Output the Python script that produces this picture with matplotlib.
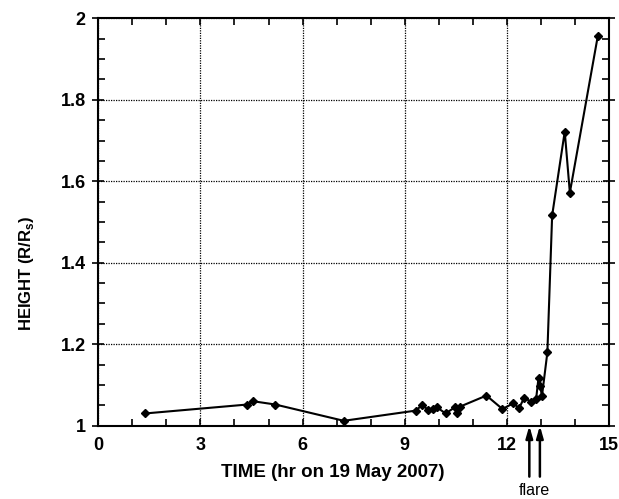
import matplotlib
matplotlib.use("Agg")
from matplotlib import pyplot as plt
from matplotlib.ticker import MultipleLocator

# data
time_hr = [1.37, 4.38, 4.55, 5.20, 7.21, 9.32, 9.52, 9.68, 9.83, 9.95,
           10.20, 10.47, 10.53, 10.63, 11.40, 11.87, 12.19, 12.36, 12.51,
           12.70, 12.86, 12.93, 12.98, 13.03, 13.19, 13.33, 13.70, 13.85, 14.67]
height = [1.030, 1.052, 1.060, 1.052, 1.012, 1.037, 1.051, 1.039, 1.041, 1.045,
          1.030, 1.045, 1.030, 1.047, 1.074, 1.041, 1.055, 1.043, 1.069,
          1.059, 1.066, 1.118, 1.098, 1.072, 1.180, 1.516, 1.722, 1.572, 1.956]
flare_times = [12.66, 12.97]

plt.rcParams['font.family'] = ['Liberation Sans', 'DejaVu Sans']

fig = plt.figure(figsize=(6.19, 4.99), dpi=100)
ax = fig.add_axes([98.3 / 619, 1 - 425.7 / 499, 510.7 / 619, 407.4 / 499])

ax.plot(time_hr, height, color='black', lw=1.5, marker='D', ms=4.5,
        mfc='black', mec='black')

ax.set_xlim(0, 15)
ax.set_ylim(1, 2)
ax.xaxis.set_minor_locator(MultipleLocator(1))
ax.yaxis.set_minor_locator(MultipleLocator(0.05))
ax.set_xticks([0, 3, 6, 9, 12, 15])
ax.set_xticklabels(['0', '3', '6', '9', '12', '15'])
ax.set_yticks([1, 1.2, 1.4, 1.6, 1.8, 2])
ax.set_yticklabels(['1', '1.2', '1.4', '1.6', '1.8', '2'])

ax.grid(True, which='major', color='black', ls=(0, (1, 1)), lw=0.9)
ax.tick_params(axis='x', which='both', direction='in', top=True, length=5,
               width=1.2, labelsize=13, pad=8)
ax.tick_params(axis='y', which='major', direction='inout', right=True,
               length=8, width=1.2, labelsize=13, pad=5)
ax.tick_params(axis='y', which='minor', direction='in', right=True,
               length=5, width=1.2)
for lbl in ax.get_xticklabels() + ax.get_yticklabels():
    lbl.set_fontweight('bold')
for sp in ax.spines.values():
    sp.set_linewidth(1.5)

ax.set_xlabel('TIME (hr on 19 May 2007)', fontsize=13.5, fontweight='bold')
ax.xaxis.set_label_coords(0.459, -0.095)
ax.set_ylabel('HEIGHT (R/R$_\\mathregular{s}$)', fontsize=12,
              fontweight='bold')
ax.yaxis.set_label_coords(-0.122, 0.375)

# flare arrows under the axis
for t in flare_times:
    ax.annotate('', xy=(t, 0.0), xytext=(t, -0.125),
                xycoords=('data', 'axes fraction'),
                textcoords=('data', 'axes fraction'),
                arrowprops=dict(arrowstyle='-|>,head_length=0.7,head_width=0.2',
                                color='black', lw=1.8, shrinkA=0, shrinkB=0),
                annotation_clip=False)
ax.text(sum(flare_times) / 2, -0.158, 'flare', transform=ax.get_xaxis_transform(),
        ha='center', va='center', fontsize=11.5)

fig.savefig('out.png', dpi=100)
